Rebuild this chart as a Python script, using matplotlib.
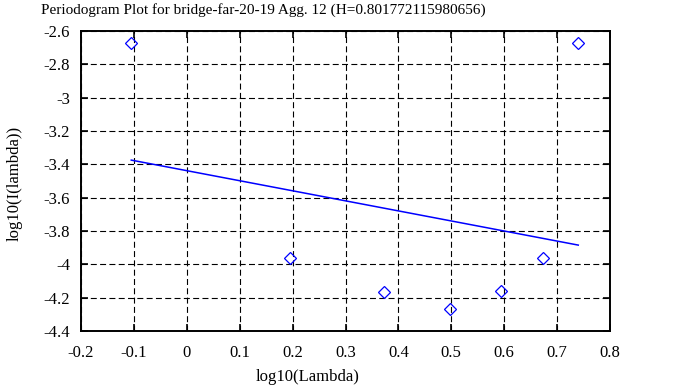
import numpy as np
import matplotlib
matplotlib.use("Agg")
import matplotlib.pyplot as plt

# periodogram points (log10 of frequency, log10 of intensity)
log_lambda = [-0.105, 0.196, 0.372, 0.497, 0.594, 0.673, 0.740]
log_I = [-2.672, -3.962, -4.166, -4.268, -4.160, -3.962, -2.672]

# fitted line
fit_slope = -0.6035
fit_intercept = -3.438

title = "Periodogram Plot for bridge-far-20-19 Agg. 12 (H=0.801772115980656)"
x_ticks = [-0.2, -0.1, 0, 0.1, 0.2, 0.3, 0.4, 0.5, 0.6, 0.7, 0.8]
x_tick_labels = ["-0.2", "-0.1", "0", "0.1", "0.2", "0.3", "0.4", "0.5", "0.6", "0.7", "0.8"]
y_ticks = [-4.4, -4.2, -4, -3.8, -3.6, -3.4, -3.2, -3, -2.8, -2.6]
y_tick_labels = ["-4.4", "-4.2", "-4", "-3.8", "-3.6", "-3.4", "-3.2", "-3", "-2.8", "-2.6"]

plt.rcParams["font.family"] = ["Liberation Serif", "DejaVu Serif"]
plt.rcParams["lines.scale_dashes"] = False

W, H = 688, 387
fig = plt.figure(figsize=(W / 100, H / 100), dpi=100)
ax = fig.add_axes([81 / W, 1 - 331 / H, (610 - 81) / W, (331 - 31) / H])

x = np.array(log_lambda)
ax.plot(x, fit_slope * x + fit_intercept, color="blue", lw=1.1)
ax.plot(log_lambda, log_I, linestyle="none", marker="D", markersize=6,
        markerfacecolor="none", markeredgecolor="blue", markeredgewidth=0.9)

ax.set_xlim(-0.2, 0.8)
ax.set_ylim(-4.4, -2.6)
ax.set_xticks(x_ticks)
ax.set_xticklabels(x_tick_labels)
ax.set_yticks(y_ticks)
ax.set_yticklabels(y_tick_labels)
ax.tick_params(direction="in", length=5, width=1.2, labelsize=12,
               top=True, right=True, colors="black")
ax.tick_params(axis="x", pad=10)
ax.tick_params(axis="y", pad=8)
ax.grid(True, color="black", linestyle=(0, (4.3, 2.4)), linewidth=0.8)
for s in ax.spines.values():
    s.set_linewidth(1.4)

fig.text(263 / W, 1 - 10 / H, title, ha="center", va="center", fontsize=11)
fig.text(308 / W, 1 - 377 / H, "log10(Lambda)", ha="center", va="center", fontsize=12)
fig.text(15 / W, 1 - 183 / H, "log10(I(lambda))", ha="center", va="center",
         rotation=90, fontsize=12)

fig.savefig("out.png", dpi=100)
